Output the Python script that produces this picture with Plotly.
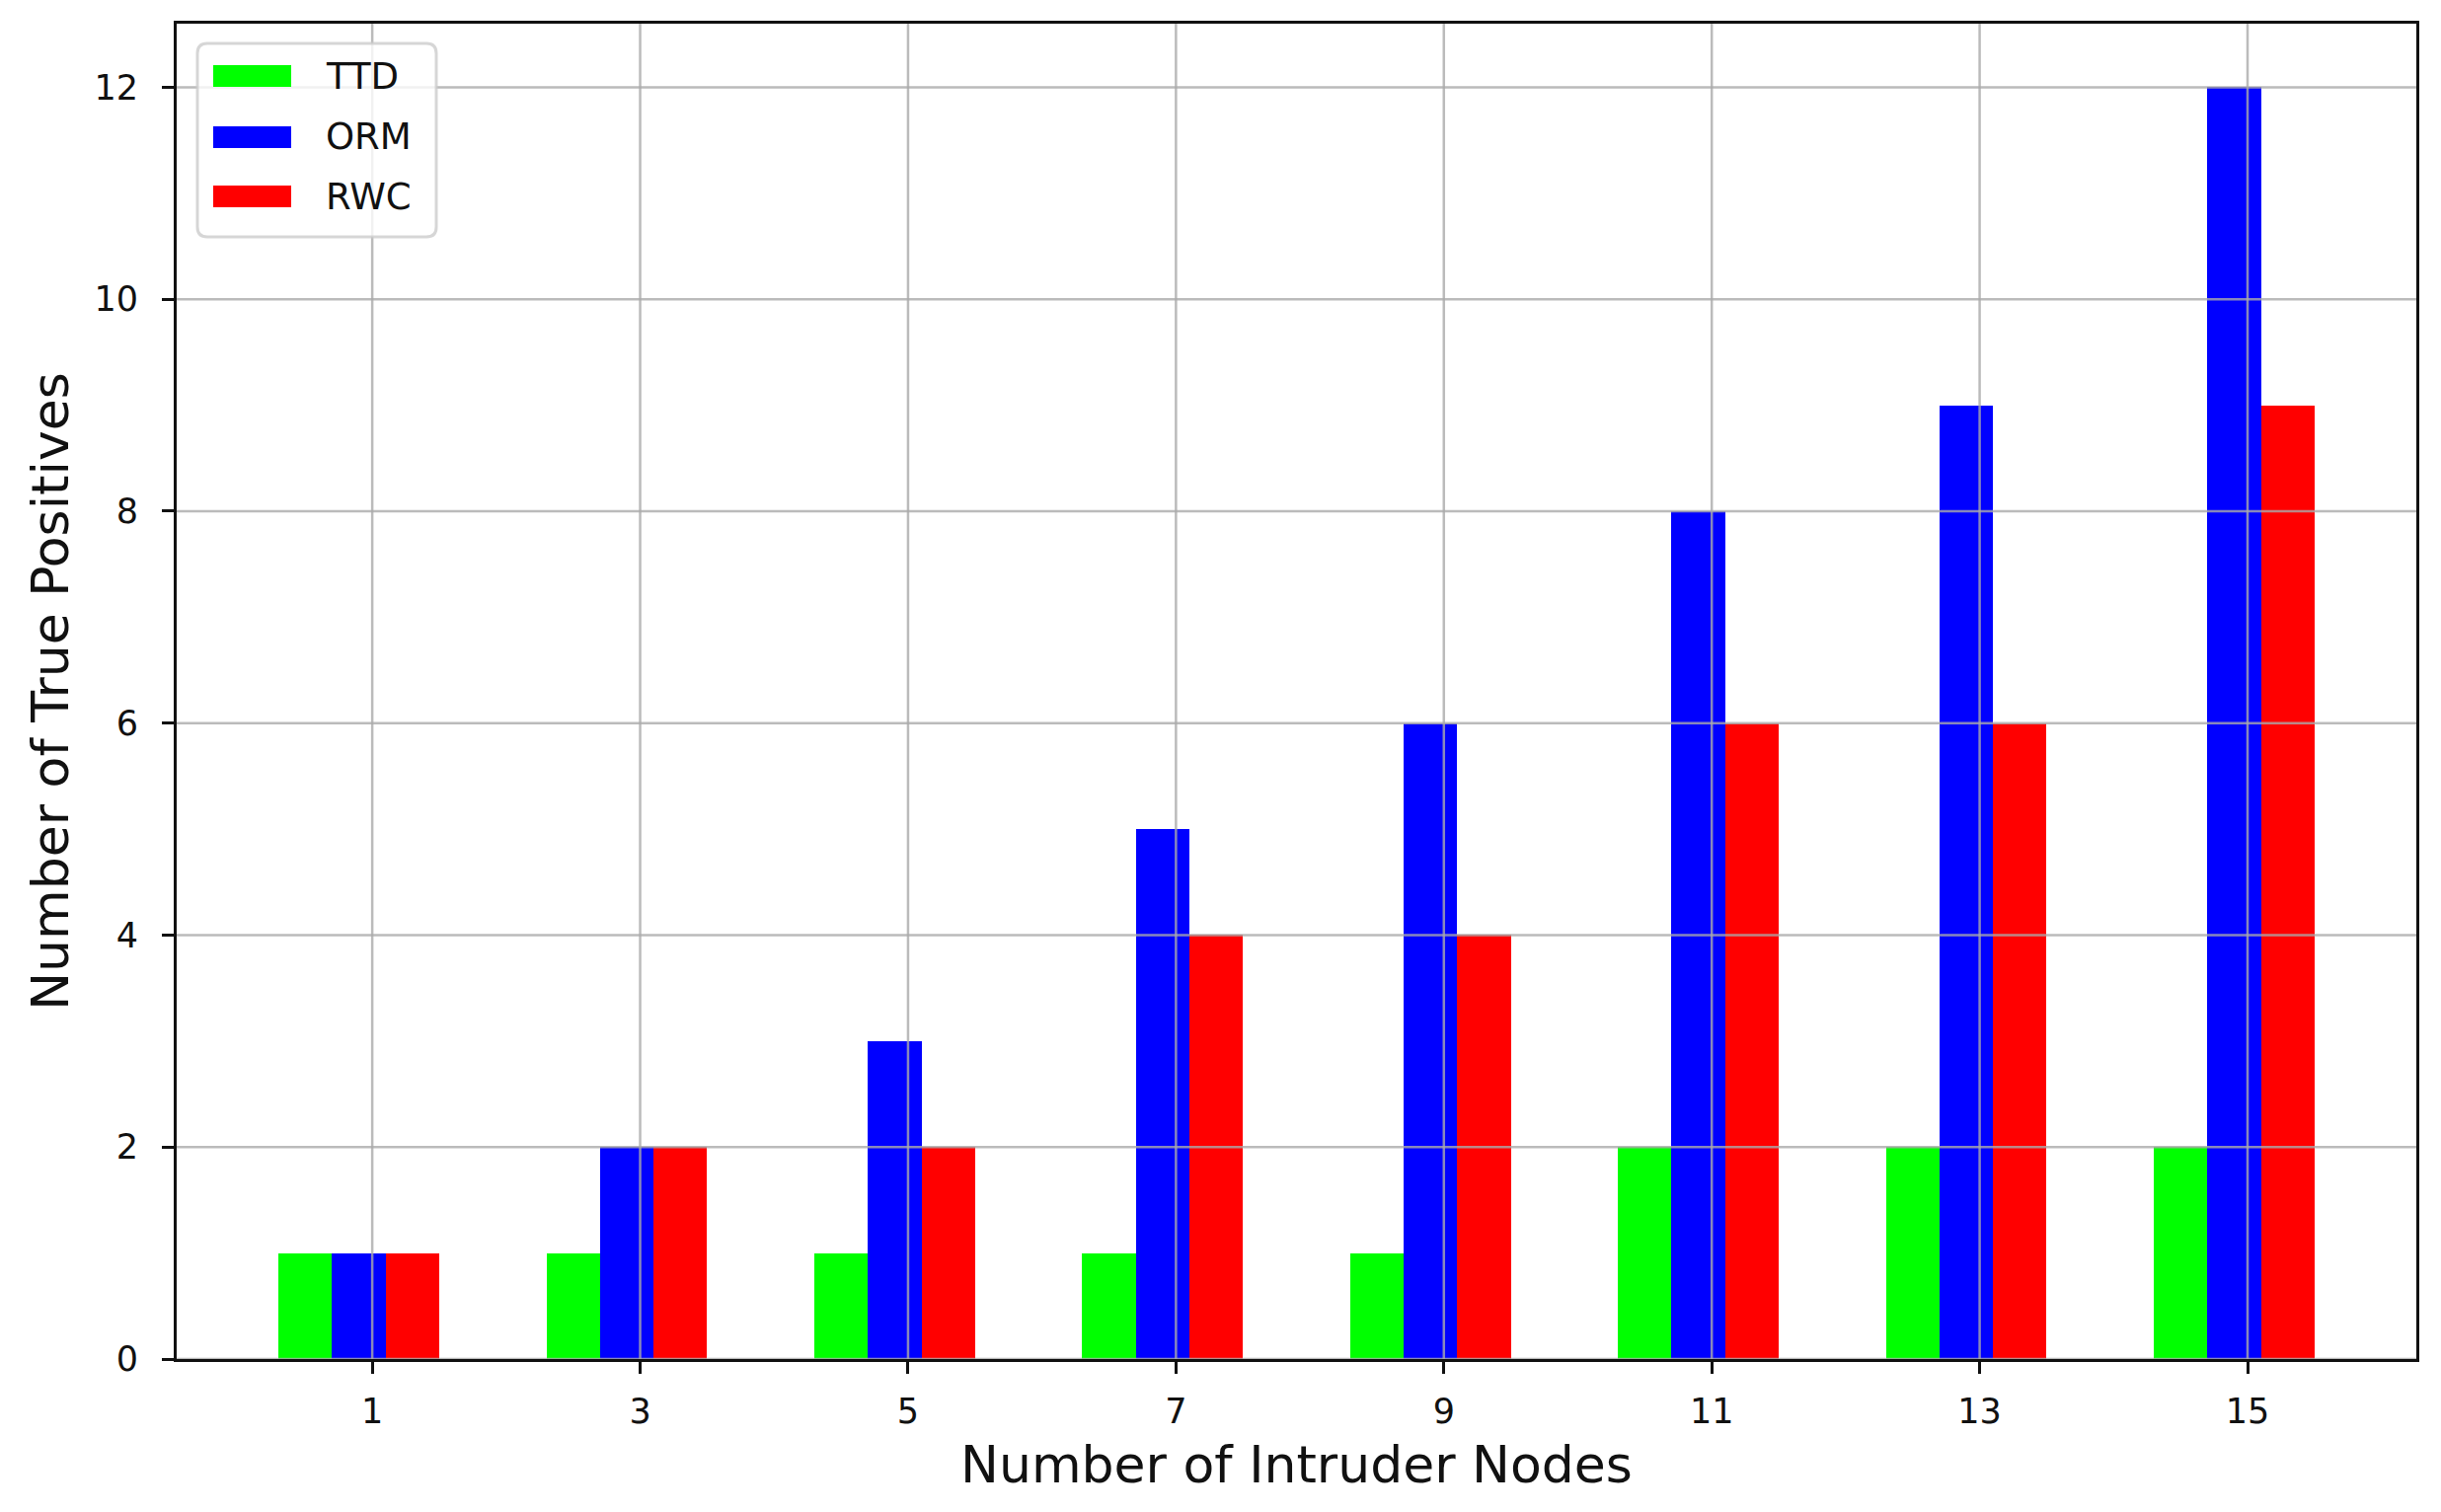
import plotly.graph_objects as go

# ---------------- data ----------------
intruder_nodes = [1, 3, 5, 7, 9, 11, 13, 15]
ttd = [1, 1, 1, 1, 1, 2, 2, 2]
orm = [1, 2, 3, 5, 6, 8, 9, 12]
rwc = [1, 2, 2, 4, 4, 6, 6, 9]
series_names = ["TTD", "ORM", "RWC"]
series_colors = ["#00ff00", "#0000ff", "#ff0000"]
y_ticks = [0, 2, 4, 6, 8, 10, 12]

# ---------------- layout constants (pixels) ----------------
W, H = 2473, 1532
L, R, T, B = 179, 25, 24, 155
PW, PH = W - L - R, H - T - B
FONT = "DejaVu Sans"
BAR_W = 0.4
offsets = [-0.5, -0.1, 0.3]


def px_x(px):
    return (px - L) / PW


def px_y(py):
    return (H - B - py) / PH


fig = go.Figure()
for name, vals, col, off in zip(series_names, [ttd, orm, rwc], series_colors, offsets):
    fig.add_trace(go.Bar(
        x=[c + off for c in intruder_nodes], y=vals, width=BAR_W,
        name=name, marker=dict(color=col, line=dict(width=0)),
        showlegend=False,
    ))

shapes = []
grid_col = "rgba(170,170,170,0.8)"
for xv in intruder_nodes:
    shapes.append(dict(type="line", xref="x", yref="paper", x0=xv, x1=xv, y0=0, y1=1,
                       line=dict(color=grid_col, width=2.5), layer="above"))
for yv in y_ticks:
    shapes.append(dict(type="line", xref="paper", yref="y", x0=0, x1=1, y0=yv, y1=yv,
                       line=dict(color=grid_col, width=2.5), layer="above"))

# manual legend (matplotlib-like)
bx0, bx1, by0, by1, rad = 200, 442, 44, 240, 10
X0, X1, Y0, Y1 = px_x(bx0), px_x(bx1), px_y(by0), px_y(by1)
rx, ry = rad / PW, rad / PH
path = (f"M{X0+rx},{Y0} L{X1-rx},{Y0} Q{X1},{Y0} {X1},{Y0-ry} "
        f"L{X1},{Y1+ry} Q{X1},{Y1} {X1-rx},{Y1} L{X0+rx},{Y1} "
        f"Q{X0},{Y1} {X0},{Y1+ry} L{X0},{Y0-ry} Q{X0},{Y0} {X0+rx},{Y0} Z")
shapes.append(dict(type="path", xref="paper", yref="paper", path=path,
                   fillcolor="rgba(255,255,255,0.8)",
                   line=dict(color="rgba(204,204,204,0.8)", width=3), layer="above"))
annotations = []
entry_y = [77, 139, 199]
for name, col, ey in zip(series_names, series_colors, entry_y):
    shapes.append(dict(type="rect", xref="paper", yref="paper",
                       x0=px_x(216), x1=px_x(295), y0=px_y(ey - 11), y1=px_y(ey + 11),
                       fillcolor=col, line=dict(width=0), layer="above"))
    annotations.append(dict(xref="paper", yref="paper", x=px_x(328), y=px_y(ey),
                            xanchor="left", yanchor="middle", text=name, showarrow=False,
                            font=dict(family=FONT, size=37, color="#111111")))

axis_common = dict(
    showgrid=False, zeroline=False, showline=True, mirror=True,
    linecolor="#111111", linewidth=3, ticks="outside", ticklen=12, tickwidth=3,
    tickcolor="#111111", tickfont=dict(family=FONT, size=35, color="#111111"),
)

fig.update_layout(
    width=W, height=H,
    margin=dict(l=L, r=R, t=T, b=B, pad=0),
    paper_bgcolor="white", plot_bgcolor="white",
    barmode="overlay", bargap=0,
    shapes=shapes, annotations=annotations,
    xaxis=dict(range=[-0.46, 16.26], tickvals=intruder_nodes,
               ticktext=[str(v) for v in intruder_nodes], ticklabelstandoff=8,
               title=dict(text="Number of Intruder Nodes", standoff=17,
                          font=dict(family=FONT, size=52, color="#111111")),
               **axis_common),
    yaxis=dict(range=[0, 12.6], tickvals=y_ticks, ticktext=[str(v) for v in y_ticks],
               ticklabelstandoff=17,
               title=dict(text="Number of True Positives", standoff=10,
                          font=dict(family=FONT, size=52, color="#111111")),
               **axis_common),
)

fig.write_html("out.html", config={"displayModeBar": False},
               post_script="document.body.style.margin='0';")
